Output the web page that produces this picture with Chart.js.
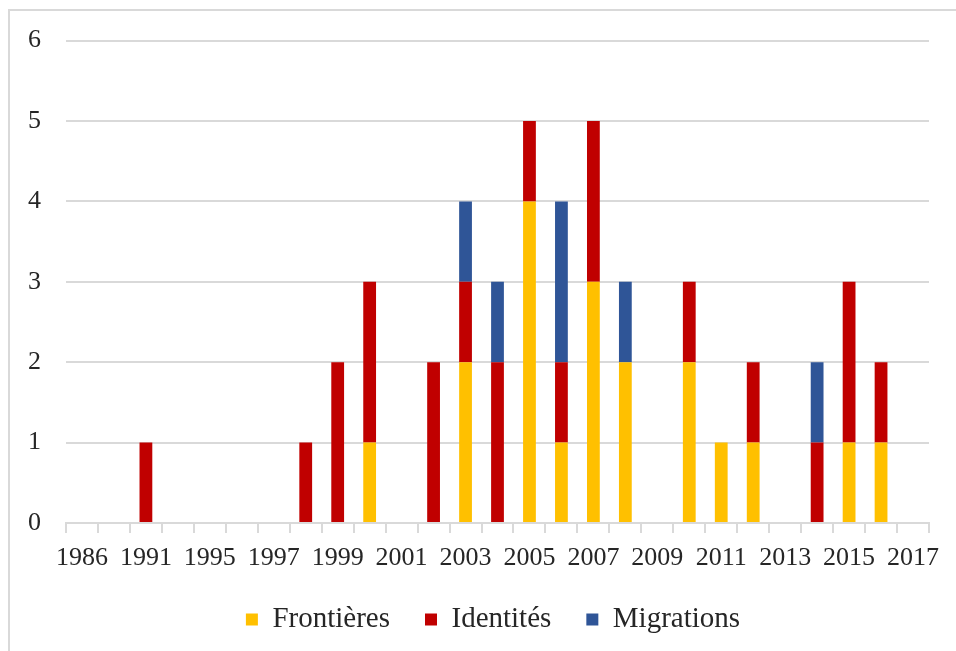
<!DOCTYPE html>
<html>
<head>
<meta charset="utf-8">
<script src="https://cdn.jsdelivr.net/npm/chart.js@4/dist/chart.umd.min.js"></script>
<style>
  html, body { margin: 0; padding: 0; background: #fff; overflow: hidden; width: 956px; height: 651px; }
  #frame { position: absolute; left: 8px; top: 9px; width: 2000px; height: 2000px; border: 2px solid #d9d9d9; box-sizing: border-box; }
  #c { position: absolute; left: 0; top: 0; }
</style>
</head>
<body>
<div id="frame"></div>
<canvas id="c" width="956" height="666"></canvas>
<script>
const categories = ['1986','1990','1991','1993','1995','1996','1997','1998','1999','2000','2001','2002','2003','2004','2005','2006','2007','2008','2009','2010','2011','2012','2013','2014','2015','2016','2017'];
const frontieres = [0,0,0,0,0,0,0,0,0,1,0,0,2,0,4,1,3,2,0,2,1,1,0,0,1,1,0];
const identites  = [0,0,1,0,0,0,0,1,2,2,0,2,1,2,1,1,2,0,0,1,0,1,0,1,2,1,0];
const migrations = [0,0,0,0,0,0,0,0,0,0,0,0,1,1,0,2,0,1,0,0,0,0,0,1,0,0,0];
const yTicks = [0,1,2,3,4,5,6];

const gridColor = '#d9d9d9';
const textColor = '#262626';
const serif = "'Liberation Serif', 'Times New Roman', serif";

const legendShift = {
  id: 'legendShift',
  afterLayout(chart) { if (chart.legend) { chart.legend.left += 37; } }
};

new Chart(document.getElementById('c'), {
  type: 'bar',
  data: {
    labels: categories,
    datasets: [
      { label: 'Frontières', data: frontieres, backgroundColor: '#FFC000' },
      { label: 'Identités', data: identites, backgroundColor: '#C00000' },
      { label: 'Migrations', data: migrations, backgroundColor: '#2F5597' }
    ]
  },
  plugins: [legendShift],
  options: {
    responsive: false,
    animation: false,
    devicePixelRatio: 1,
    datasets: { bar: { categoryPercentage: 1, barPercentage: 0.4 } },
    layout: { padding: { left: 20, right: 27, top: 40, bottom: 22 } },
    plugins: {
      tooltip: { enabled: false },
      legend: {
        position: 'bottom',
        labels: {
          font: { family: serif, size: 29 },
          color: textColor,
          boxWidth: 12,
          boxHeight: 12,
          padding: 35
        }
      }
    },
    scales: {
      x: {
        stacked: true,
        afterFit: s => { s.height = 47; },
        grid: { display: true, drawOnChartArea: false, drawTicks: true, tickLength: 10, offset: true, color: gridColor, lineWidth: 2 },
        border: { display: true, color: gridColor, width: 2 },
        ticks: {
          autoSkip: false,
          maxRotation: 0,
          minRotation: 0,
          padding: 10,
          color: textColor,
          font: { family: serif, size: 26 },
          callback: function(v, i) { return i % 2 === 0 ? categories[i] : ''; }
        }
      },
      y: {
        stacked: true,
        min: 0,
        max: 6,
        afterFit: s => { s.width = 46; },
        afterBuildTicks: s => { s.ticks = yTicks.map(v => ({ value: v })); },
        grid: { color: gridColor, lineWidth: 2, drawTicks: false },
        border: { display: false },
        ticks: { padding: 25, color: textColor, font: { family: serif, size: 26 } }
      }
    }
  }
});
</script>
</body>
</html>
